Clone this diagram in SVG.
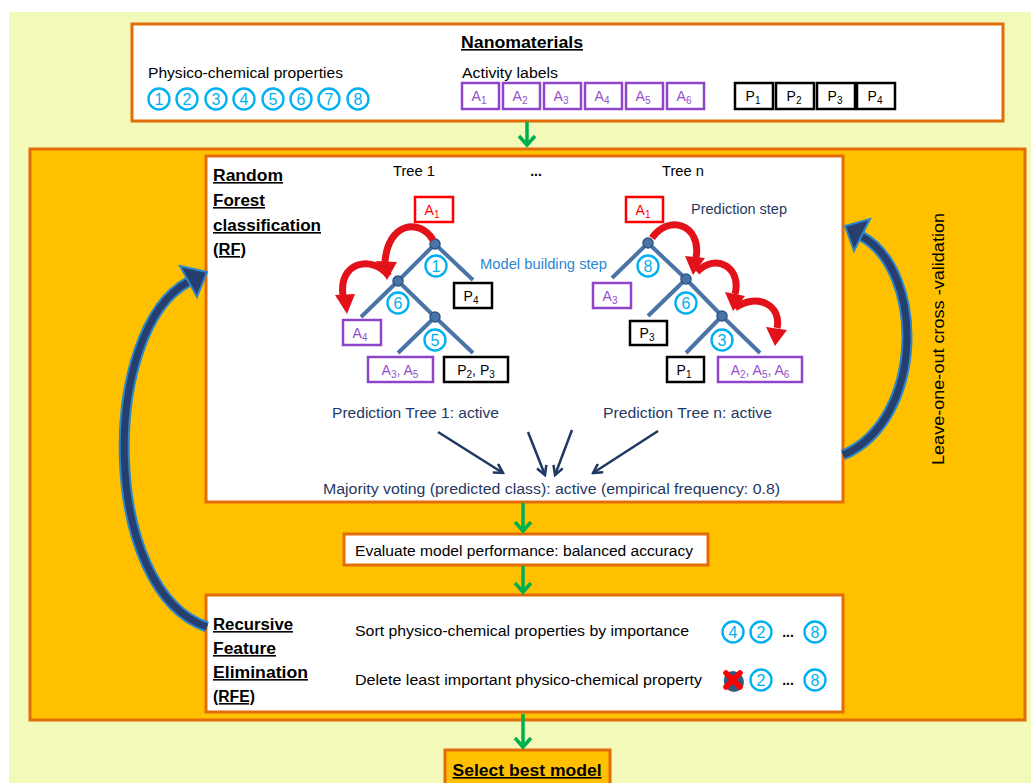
<svg xmlns="http://www.w3.org/2000/svg" width="1031" height="783" viewBox="0 0 1031 783">
<style>
text{font-family:"Liberation Sans",Arial,sans-serif;}
.bg{fill:#F3F9B9;}
.ob{fill:#FFFFFF;stroke:#E36C09;stroke-width:3;}
.big{fill:#FFC000;stroke:#E36C09;stroke-width:3;}
.t{font-size:14px;fill:#000;}
.b{font-size:16px;font-weight:bold;fill:#000;text-decoration:underline;}
.nc circle{fill:#fff;stroke:#00B0F0;stroke-width:2.4;}
.nc text{font-size:16px;fill:#00B0F0;text-anchor:middle;}
.pa rect{fill:#fff;stroke:#8E45C9;stroke-width:2.5;}
.pa text{font-size:14px;fill:#9450CC;text-anchor:middle;}
.pk rect{fill:#fff;stroke:#000;stroke-width:2.5;}
.pk text{font-size:14px;fill:#000;text-anchor:middle;}
.rd rect{fill:#fff;stroke:#FF0000;stroke-width:2.5;}
.rd text{font-size:14px;fill:#FF0000;text-anchor:middle;}
.br{stroke:#4A73A6;stroke-width:4;stroke-linecap:butt;fill:none;}
.nd{fill:#4A73A6;stroke:#2F5484;stroke-width:1.5;}
.ra{fill:none;stroke:#E3121A;stroke-width:7;}
.rh{fill:#E3121A;}
.g{stroke:#00B050;stroke-width:3.5;fill:none;}
.nv{stroke:#1F3864;stroke-width:2.5;fill:none;}
.bo{fill:none;stroke:#2E86C8;stroke-width:11;}
.bi{fill:none;stroke:#263F6E;stroke-width:7;}
.bh{fill:#263F6E;stroke:#2E86C8;stroke-width:2;}
</style>
<defs>
<marker id="nvh" viewBox="0 0 12 12" refX="10" refY="6" markerWidth="12" markerHeight="12" markerUnits="userSpaceOnUse" orient="auto">
<path d="M1 1 L10 6 L1 11" fill="none" stroke="#1F3864" stroke-width="2.5"/>
</marker>
</defs>
<rect x="0" y="0" width="1031" height="783" fill="#FFFFFF"/>
<rect class="bg" x="9" y="12" width="1022" height="771"/>

<g id="nanomaterials">
<rect class="ob" x="132" y="24" width="871" height="97"/>
<text class="b" x="522" y="48" text-anchor="middle" textLength="122" lengthAdjust="spacingAndGlyphs">Nanomaterials</text>
<text class="t" x="148" y="78" textLength="195" lengthAdjust="spacingAndGlyphs">Physico-chemical properties</text>
<text class="t" x="462" y="78" textLength="96" lengthAdjust="spacingAndGlyphs">Activity labels</text>
<g class="nc">
<circle cx="159" cy="99" r="10.5"/><text x="159" y="105">1</text>
<circle cx="187" cy="99" r="10.5"/><text x="187" y="105">2</text>
<circle cx="216" cy="99" r="10.5"/><text x="216" y="105">3</text>
<circle cx="244" cy="99" r="10.5"/><text x="244" y="105">4</text>
<circle cx="273" cy="99" r="10.5"/><text x="273" y="105">5</text>
<circle cx="301" cy="99" r="10.5"/><text x="301" y="105">6</text>
<circle cx="329" cy="99" r="10.5"/><text x="329" y="105">7</text>
<circle cx="358" cy="99" r="10.5"/><text x="358" y="105">8</text>
</g>
<g class="pa">
<rect x="462" y="83" width="37" height="26"/><text x="479" y="101">A<tspan font-size="10" dy="3">1</tspan></text>
<rect x="503" y="83" width="37" height="26"/><text x="520" y="101">A<tspan font-size="10" dy="3">2</tspan></text>
<rect x="544" y="83" width="37" height="26"/><text x="561" y="101">A<tspan font-size="10" dy="3">3</tspan></text>
<rect x="585" y="83" width="37" height="26"/><text x="602" y="101">A<tspan font-size="10" dy="3">4</tspan></text>
<rect x="626" y="83" width="37" height="26"/><text x="643" y="101">A<tspan font-size="10" dy="3">5</tspan></text>
<rect x="667" y="83" width="37" height="26"/><text x="684" y="101">A<tspan font-size="10" dy="3">6</tspan></text>
</g>
<g class="pk">
<rect x="735" y="83" width="38" height="26"/><text x="753" y="101">P<tspan font-size="10" dy="3">1</tspan></text>
<rect x="776" y="83" width="38" height="26"/><text x="794" y="101">P<tspan font-size="10" dy="3">2</tspan></text>
<rect x="817" y="83" width="38" height="26"/><text x="835" y="101">P<tspan font-size="10" dy="3">3</tspan></text>
<rect x="857" y="83" width="38" height="26"/><text x="875" y="101">P<tspan font-size="10" dy="3">4</tspan></text>
</g>
</g>

<g id="outer">
<rect class="big" x="30" y="149" width="995" height="571"/>
</g>

<g id="rf">
<rect class="ob" x="206" y="156" width="637" height="346"/>
<text class="b" x="213" y="181" textLength="70" lengthAdjust="spacingAndGlyphs">Random</text>
<text class="b" x="213" y="206" textLength="52" lengthAdjust="spacingAndGlyphs">Forest</text>
<text class="b" x="213" y="231" textLength="108" lengthAdjust="spacingAndGlyphs">classification</text>
<text class="b" x="213" y="255" textLength="33" lengthAdjust="spacingAndGlyphs">(RF)</text>
<text class="t" x="414" y="176" text-anchor="middle" textLength="42" lengthAdjust="spacingAndGlyphs">Tree 1</text>
<text class="t" x="536" y="176" text-anchor="middle" font-weight="bold">...</text>
<text class="t" x="683" y="176" text-anchor="middle" textLength="42" lengthAdjust="spacingAndGlyphs">Tree n</text>
<text x="480" y="269" font-size="14" fill="#2E86CF" textLength="127" lengthAdjust="spacingAndGlyphs">Model building step</text>
<text x="691" y="214" font-size="14" fill="#1F3864" textLength="96" lengthAdjust="spacingAndGlyphs">Prediction step</text>
<text x="332" y="418" font-size="14" fill="#1F3864" textLength="167" lengthAdjust="spacingAndGlyphs">Prediction Tree 1: active</text>
<text x="603" y="418" font-size="14" fill="#1F3864" textLength="169" lengthAdjust="spacingAndGlyphs">Prediction Tree n: active</text>
<text x="323" y="494" font-size="14" fill="#1F3864" textLength="457" lengthAdjust="spacingAndGlyphs">Majority voting (predicted class): active (empirical frequency: 0.8)</text>
</g>

<g id="tree1">
<path class="br" d="M435 244 L398 281 M435 244 L473 280 M398 281 L361 317 M398 281 L435 317 M435 317 L398 353 M435 317 L473 353"/>
<circle class="nd" cx="435" cy="244" r="5"/>
<circle class="nd" cx="398" cy="281" r="5"/>
<circle class="nd" cx="435" cy="317" r="5"/>
<g class="nc">
<circle cx="436" cy="266" r="10.5"/><text x="436" y="272">1</text>
<circle cx="398" cy="303" r="10.5"/><text x="398" y="309">6</text>
<circle cx="435" cy="340" r="10.5"/><text x="435" y="346">5</text>
</g>
<g class="rd"><rect x="415" y="197" width="38" height="25"/><text x="432" y="215">A<tspan font-size="10" dy="3">1</tspan></text></g>
<g class="pk"><rect x="454" y="283" width="38" height="25"/><text x="471" y="301">P<tspan font-size="10" dy="3">4</tspan></text></g>
<g class="pa"><rect x="343" y="320" width="38" height="25"/><text x="360" y="338">A<tspan font-size="10" dy="3">4</tspan></text></g>
<g class="pa"><rect x="368" y="357" width="65" height="25"/><text x="400" y="375">A<tspan font-size="10" dy="3">3</tspan><tspan dy="-3">, A</tspan><tspan font-size="10" dy="3">5</tspan></text></g>
<g class="pk"><rect x="444" y="357" width="64" height="25"/><text x="476" y="375">P<tspan font-size="10" dy="3">2</tspan><tspan dy="-3">, P</tspan><tspan font-size="10" dy="3">3</tspan></text></g>
<path class="ra" d="M433 240 C420 218 388 222 385 262"/>
<polygon class="rh" points="387,280 376,261 397,262"/>
<path class="ra" d="M389 276 C372 254 338 262 343 296"/>
<polygon class="rh" points="347,314 335,295 355,294"/>
</g>

<g id="treen">
<path class="br" d="M648 243 L612 278 M648 243 L686 279 M686 279 L648 316 M686 279 L722 316 M722 316 L686 353 M722 316 L760 353"/>
<circle class="nd" cx="648" cy="243" r="5"/>
<circle class="nd" cx="686" cy="279" r="5"/>
<circle class="nd" cx="722" cy="316" r="5"/>
<g class="nc">
<circle cx="648" cy="266" r="10.5"/><text x="648" y="272">8</text>
<circle cx="686" cy="303" r="10.5"/><text x="686" y="309">6</text>
<circle cx="722" cy="340" r="10.5"/><text x="722" y="346">3</text>
</g>
<g class="rd"><rect x="626" y="197" width="37" height="25"/><text x="643" y="215">A<tspan font-size="10" dy="3">1</tspan></text></g>
<g class="pa"><rect x="593" y="283" width="38" height="25"/><text x="610" y="301">A<tspan font-size="10" dy="3">3</tspan></text></g>
<g class="pk"><rect x="630" y="321" width="37" height="24"/><text x="647" y="338">P<tspan font-size="10" dy="3">3</tspan></text></g>
<g class="pk"><rect x="667" y="357" width="37" height="25"/><text x="684" y="375">P<tspan font-size="10" dy="3">1</tspan></text></g>
<g class="pa"><rect x="718" y="357" width="84" height="25"/><text x="760" y="375">A<tspan font-size="10" dy="3">2</tspan><tspan dy="-3">, A</tspan><tspan font-size="10" dy="3">5</tspan><tspan dy="-3">, A</tspan><tspan font-size="10" dy="3">6</tspan></text></g>
<path class="ra" d="M652 238 C668 214 702 224 696 258"/>
<polygon class="rh" points="693,275 685,256 705,258"/>
<path class="ra" d="M697 272 C716 252 742 268 735 294"/>
<polygon class="rh" points="733,311 725,292 745,296"/>
<path class="ra" d="M735 308 C758 292 782 306 777 328"/>
<polygon class="rh" points="775,346 766,327 787,330"/>
</g>

<g id="evaluate">
<rect class="ob" x="344" y="534" width="364" height="31"/>
<text class="t" x="355" y="556" textLength="338" lengthAdjust="spacingAndGlyphs">Evaluate model performance: balanced accuracy</text>
</g>

<g id="rfe">
<rect class="ob" x="206" y="595" width="637" height="117"/>
<text class="b" x="213" y="630" textLength="80" lengthAdjust="spacingAndGlyphs">Recursive</text>
<text class="b" x="213" y="654" textLength="63" lengthAdjust="spacingAndGlyphs">Feature</text>
<text class="b" x="213" y="678" textLength="95" lengthAdjust="spacingAndGlyphs">Elimination</text>
<text class="b" x="213" y="702" textLength="42" lengthAdjust="spacingAndGlyphs">(RFE)</text>
<text class="t" x="355" y="636" textLength="334" lengthAdjust="spacingAndGlyphs">Sort physico-chemical properties by importance</text>
<text class="t" x="355" y="685" textLength="347" lengthAdjust="spacingAndGlyphs">Delete least important physico-chemical property</text>
<g class="nc">
<circle cx="733" cy="632" r="10.5"/><text x="733" y="638">4</text>
<circle cx="761" cy="632" r="10.5"/><text x="761" y="638">2</text>
<circle cx="815" cy="632" r="10.5"/><text x="815" y="638">8</text>
<circle cx="761" cy="680" r="10.5"/><text x="761" y="686">2</text>
<circle cx="815" cy="680" r="10.5"/><text x="815" y="686">8</text>
</g>
<text class="t" x="788" y="637" text-anchor="middle" font-weight="bold">...</text>
<text class="t" x="788" y="685" text-anchor="middle" font-weight="bold">...</text>
<circle cx="734" cy="682" r="10" fill="#1F3B5E" opacity="0.85"/>
<circle cx="733" cy="680" r="9" fill="#2C5A8A"/>
<path d="M726 673 L740 687 M740 673 L726 687" stroke="#FF0000" stroke-width="5.5" stroke-linecap="round"/>
</g>

<g id="select">
<rect class="big" x="445" y="750" width="165" height="40"/>
<text class="b" x="527" y="776" text-anchor="middle" font-size="17" textLength="149" lengthAdjust="spacingAndGlyphs">Select best model</text>
</g>

<g id="loocv-label">
<text x="0" y="0" font-size="16" fill="#000" text-anchor="middle" transform="translate(944,339) rotate(-90)" textLength="252" lengthAdjust="spacingAndGlyphs">Leave-one-out cross -validation</text>
</g>

<g id="connectors">
<path class="g" d="M527 122 V145 M519 136 L527 145 L535 136"/>
<path class="g" d="M523 503 V531 M515 522 L523 531 L531 522"/>
<path class="g" d="M523 566 V592 M515 583 L523 592 L531 583"/>
<path class="g" d="M523 714 V747 M515 738 L523 747 L531 738"/>
<path class="nv" d="M438 432 L503 473" marker-end="url(#nvh)"/>
<path class="nv" d="M528 432 L545 475" marker-end="url(#nvh)"/>
<path class="nv" d="M572 430 L555 475" marker-end="url(#nvh)"/>
<path class="nv" d="M658 431 L593 473" marker-end="url(#nvh)"/>
<path class="bo" d="M207 627 C100 590 100 330 188 282"/>
<path class="bi" d="M207 627 C100 590 100 330 188 282"/>
<polygon class="bh" points="207,272 180,266 197,297"/>
<path class="bo" d="M843 455 C925 420 925 270 861 236"/>
<path class="bi" d="M843 455 C925 420 925 270 861 236"/>
<polygon class="bh" points="845,226 870,219 854,251"/>
</g>
</svg>
